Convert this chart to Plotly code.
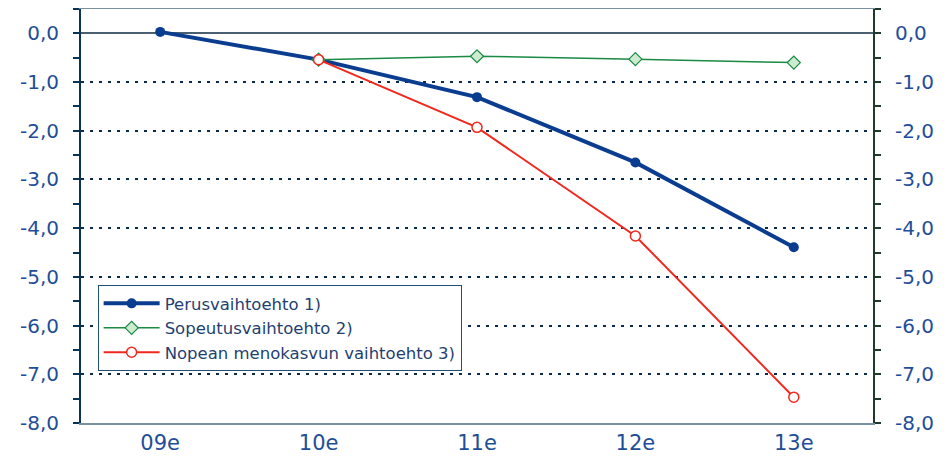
import plotly.graph_objects as go

categories = ["09e", "10e", "11e", "12e", "13e"]
perus = [0.03, -0.54, -1.31, -2.65, -4.39]
sopeutus = [None, -0.54, -0.47, -0.53, -0.60]
nopea = [None, -0.54, -1.93, -4.16, -7.47]
names = ["Perusvaihtoehto 1)", "Sopeutusvaihtoehto 2)", "Nopean menokasvun vaihtoehto 3)"]
ytickvals = [0, -1, -2, -3, -4, -5, -6, -7, -8]
yticktext = ["0,0", "-1,0", "-2,0", "-3,0", "-4,0", "-5,0", "-6,0", "-7,0", "-8,0"]

lab_color = "#1F4E99"
fig = go.Figure()
fig.add_trace(go.Scatter(x=categories, y=perus, name=names[0], mode="lines+markers",
                         line=dict(color="#0A3D8F", width=4),
                         marker=dict(symbol="circle", size=10, color="#0A3D8F")))
fig.add_trace(go.Scatter(x=categories, y=sopeutus, name=names[1], mode="lines+markers",
                         line=dict(color="#1A8A45", width=1.5),
                         marker=dict(symbol="diamond", size=10, color="#CDEBCF",
                                     line=dict(color="#1A8A45", width=1.2))))
fig.add_trace(go.Scatter(x=categories, y=nopea, name=names[2], mode="lines+markers",
                         line=dict(color="#F0281E", width=2),
                         marker=dict(symbol="circle", size=10, color="white",
                                     line=dict(color="#F0281E", width=1.5))))

yax = dict(range=[-8, 0.5], tickvals=ytickvals, ticktext=yticktext,
           tickfont=dict(family="DejaVu Sans", size=20, color=lab_color),
           ticks="outside", ticklen=6, tickwidth=1.5,
           minor=dict(dtick=0.5, tick0=0, ticks="outside", ticklen=6, tickwidth=1.5, showgrid=False),
           showline=True, linewidth=2, ticklabelstandoff=10, automargin=False)

fig.update_layout(
    width=943, height=455,
    margin=dict(l=73, r=78, t=1, b=40, autoexpand=False),
    paper_bgcolor="white", plot_bgcolor="white",
    showlegend=True,
    legend=dict(x=0.021, y=0.333, xanchor="left", yanchor="top",
                bordercolor="#1F4E79", borderwidth=1, bgcolor="white",
                font=dict(family="DejaVu Sans", size=16.5, color="#1F3F70"),
                tracegroupgap=0, itemwidth=56),
    xaxis=dict(type="category", range=[-0.5, 4.5], showgrid=False, ticks="",
               tickfont=dict(family="DejaVu Sans", size=21, color=lab_color),
               showline=True, mirror=True, linecolor="#7890A0", linewidth=2,
               automargin=False),
    yaxis=dict(**yax, linecolor="#0A3358", tickcolor="#0A3358",
               showgrid=True, gridcolor="#0A2A4A", gridwidth=2, griddash="3px,6px",
               zeroline=True, zerolinecolor="#4A6070", zerolinewidth=1.5),
    yaxis2=dict(**yax, overlaying="y", side="right", matches="y",
                linecolor="#203A2A", tickcolor="#203A2A", showgrid=False, zeroline=False),
)
fig.add_trace(go.Scatter(x=categories, y=perus, yaxis="y2", showlegend=False,
                         mode="markers", marker=dict(opacity=0), hoverinfo="skip"))
fig.write_html("out.html")
